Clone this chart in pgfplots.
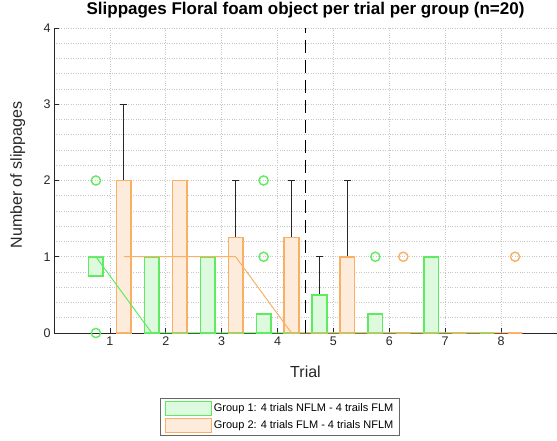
\documentclass[border=0pt]{standalone}
\usepackage{fontspec}
\setmainfont{Liberation Sans}
\usepackage{pgfplots}
\pgfplotsset{compat=1.18}
\usepgfplotslibrary{statistics}
\definecolor{gedge}{RGB}{95,235,95}
\definecolor{gfill}{RGB}{222,250,222}
\definecolor{oedge}{RGB}{250,175,100}
\definecolor{ofill}{RGB}{253,236,219}
\definecolor{axgray}{RGB}{38,38,38}
\pgfplotsset{
  boxplot/draw/lower whisker/.style={},
  bx/.style={forget plot, line width=1.6pt,
    boxplot/draw direction=y,
    boxplot/box extend=0.26, boxplot/whisker extend=0.13,
    boxplot/every whisker/.style={draw=black!85, line width=1.1pt},
    boxplot/every median/.style={draw=none}},
  gbox/.style={bx, draw=gedge, fill=gfill},
  obox/.style={bx, draw=oedge, fill=ofill},
}
\begin{document}
\begin{tikzpicture}
\useasboundingbox (-54pt,-108pt) rectangle (503pt,333pt);
\begin{axis}[
  at={(0,0)}, anchor=south west,
  scale only axis, width=503pt, height=305pt,
  xmin=0, xmax=9, ymin=0, ymax=4,
  clip=false,
  axis x line*=bottom, axis y line*=left,
  axis line style={axgray, line width=0.6pt},
  xtick={1,...,8}, ytick={0,...,4},
  minor y tick num=4,
  grid=both,
  major grid style={dotted, line width=0.6pt, black!22},
  minor grid style={dotted, line width=0.6pt, black!22},
  tick align=inside,
  major tick length=5pt, minor tick length=0pt,
  tick style={axgray, line width=0.6pt},
  ticklabel style={font=\fontsize{12.5}{14}\selectfont, text=axgray},
  /pgf/number format/assume math mode=true,
  title={\bfseries Slippages Floral foam object per trial per group (n=20)},
  title style={font=\fontsize{17}{20}\selectfont, at={(axis description cs:0.5,1)}, anchor=base, yshift=7.3pt},
  xlabel={Trial},
  every axis x label/.style={font=\fontsize{16}{19}\selectfont, text=axgray, at={(axis description cs:0.5,0)}, anchor=base, yshift=-44.3pt},
  legend style={at={(axis description cs:0.4493,-0.2754)}, anchor=center,
    font=\fontsize{11}{13}\selectfont, draw=black!60, line width=0.6pt,
    inner xsep=4pt, inner ysep=2pt, row sep=2pt},
  legend cell align=left,
  legend image code/.code={\draw[#1] (0pt,-7pt) rectangle (46pt,7pt);},
]
\addlegendimage{draw=gedge, fill=gfill, line width=1.3pt}
\addlegendentry{Group 1: 4 trials NFLM - 4 trails FLM}
\addlegendimage{draw=oedge, fill=ofill, line width=1.3pt}
\addlegendentry{Group 2: 4 trials FLM - 4 trials NFLM}

% Group 1 (green)
\addplot[gbox, boxplot prepared={draw position=0.75, lower quartile=0.75, upper quartile=1, median=1, lower whisker=0.75, upper whisker=1}] coordinates {};
\addplot[gbox, boxplot prepared={draw position=1.75, lower quartile=0, upper quartile=1, median=0, lower whisker=0, upper whisker=1}] coordinates {};
\addplot[gbox, boxplot prepared={draw position=2.75, lower quartile=0, upper quartile=1, median=0, lower whisker=0, upper whisker=1}] coordinates {};
\addplot[gbox, boxplot prepared={draw position=3.75, lower quartile=0, upper quartile=0.25, median=0, lower whisker=0, upper whisker=0.25}] coordinates {};
\addplot[gbox, boxplot prepared={draw position=4.75, lower quartile=0, upper quartile=0.5, median=0, lower whisker=0, upper whisker=1}] coordinates {};
\addplot[gbox, boxplot prepared={draw position=5.75, lower quartile=0, upper quartile=0.25, median=0, lower whisker=0, upper whisker=0.25}] coordinates {};
\addplot[gbox, boxplot prepared={draw position=6.75, lower quartile=0, upper quartile=1, median=0, lower whisker=0, upper whisker=1}] coordinates {};
\addplot[gbox, boxplot prepared={draw position=7.75, lower quartile=0, upper quartile=0, median=0, lower whisker=0, upper whisker=0}] coordinates {};

% Group 2 (orange)
\addplot[obox, boxplot prepared={draw position=1.25, lower quartile=0, upper quartile=2, median=1, lower whisker=0, upper whisker=3}] coordinates {};
\addplot[obox, boxplot prepared={draw position=2.25, lower quartile=0, upper quartile=2, median=1, lower whisker=0, upper whisker=2}] coordinates {};
\addplot[obox, boxplot prepared={draw position=3.25, lower quartile=0, upper quartile=1.25, median=1, lower whisker=0, upper whisker=2}] coordinates {};
\addplot[obox, boxplot prepared={draw position=4.25, lower quartile=0, upper quartile=1.25, median=0, lower whisker=0, upper whisker=2}] coordinates {};
\addplot[obox, boxplot prepared={draw position=5.25, lower quartile=0, upper quartile=1, median=0, lower whisker=0, upper whisker=2}] coordinates {};
\addplot[obox, boxplot prepared={draw position=6.25, lower quartile=0, upper quartile=0, median=0, lower whisker=0, upper whisker=0}] coordinates {};
\addplot[obox, boxplot prepared={draw position=7.25, lower quartile=0, upper quartile=0, median=0, lower whisker=0, upper whisker=0}] coordinates {};
\addplot[obox, boxplot prepared={draw position=8.25, lower quartile=0, upper quartile=0, median=0, lower whisker=0, upper whisker=0}] coordinates {};

% median lines
\addplot[forget plot, gedge, line width=1pt] coordinates {(0.75,1) (1.75,0) (2.75,0) (3.75,0) (4.75,0) (5.75,0) (6.75,0) (7.75,0)};
\addplot[forget plot, oedge, line width=1pt] coordinates {(1.25,1) (2.25,1) (3.25,1) (4.25,0) (5.25,0) (6.25,0) (7.25,0) (8.25,0)};

% outliers
\addplot[forget plot, only marks, mark=o, mark size=4.6pt, gedge, mark options={line width=1.4pt}] coordinates {(0.75,0) (0.75,2) (3.75,1) (3.75,2) (5.75,1)};
\addplot[forget plot, only marks, mark=o, mark size=4.6pt, oedge, mark options={line width=1.4pt}] coordinates {(6.25,1) (8.25,1)};

% separator
\addplot[forget plot, black, line width=1.4pt, dash pattern=on 13pt off 7pt] coordinates {(4.5,0) (4.5,4)};
\end{axis}
\node[rotate=90, anchor=base, font=\fontsize{16}{19}\selectfont, text=axgray, inner sep=0pt] at (-32pt,158pt) {Number of slippages};
\end{tikzpicture}
\end{document}
